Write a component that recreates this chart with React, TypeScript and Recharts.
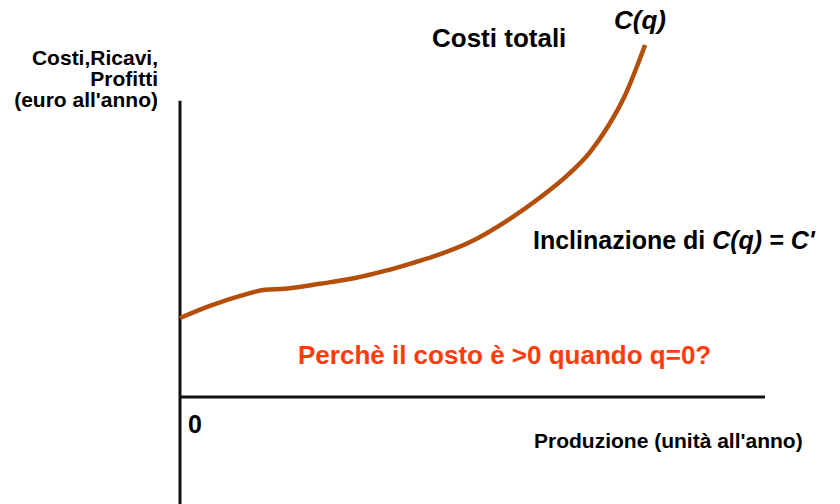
import { LineChart, Line, XAxis, YAxis, ReferenceLine } from 'recharts'

// quantità prodotta (unità all'anno)
const quantita = [0, 5.1, 10.3, 14.5, 17.9, 23.9, 29.9, 35, 39.3, 43.6, 49.6, 56.4, 61.5, 66.3, 70.1, 73.2, 76.1, 79.5]
// costo totale C(q)
const costi = [22.1, 25.5, 28.3, 30.0, 30.3, 31.7, 33.3, 35.3, 37.3, 39.5, 43.4, 49.9, 55.8, 62.2, 68.6, 75.9, 84.6, 98.6]

const data = quantita.map((q, i) => ({ q, costo: costi[i] }))

const FONT = '"Liberation Sans", Arial, sans-serif'

export default function App() {
  return (
    <div style={{ position: 'absolute', top: 0, left: 0, width: 840, height: 504, background: '#fff' }}>
      <LineChart width={840} height={504} data={data} margin={{ top: 40, right: 75, bottom: 0, left: 180 }}>
        <XAxis type="number" dataKey="q" domain={[0, 100]} hide />
        <YAxis type="number" domain={[-30, 100]} hide />
        <ReferenceLine segment={[{ x: 0, y: -30 }, { x: 0, y: 83 }]} stroke="#111" strokeWidth={3} />
        <ReferenceLine segment={[{ x: 0, y: 0 }, { x: 100, y: 0 }]} stroke="#111" strokeWidth={3} />
        <Line type="monotone" dataKey="costo" stroke="#B34E0B" strokeWidth={4.5} dot={false} isAnimationActive={false} />
      </LineChart>
      <svg width={840} height={504} style={{ position: 'absolute', top: 0, left: 0, pointerEvents: 'none' }} fontFamily={FONT} fontWeight="bold">
        <text x={158} y={65} textAnchor="end" fontSize={21}>Costi,Ricavi,</text>
        <text x={158} y={86} textAnchor="end" fontSize={21}>Profitti</text>
        <text x={158} y={107} textAnchor="end" fontSize={21}>(euro all'anno)</text>
        <text x={432} y={47} fontSize={26}>Costi totali</text>
        <text x={614} y={29} fontSize={26} fontStyle="italic">C(q)</text>
        <text x={533} y={249} fontSize={25}>
          Inclinazione di <tspan fontStyle="italic">C(q) = C'</tspan>
        </text>
        <text x={298} y={364} fontSize={26} fill="#FF3B0A">Perchè il costo è &gt;0 quando q=0?</text>
        <text x={188} y={433} fontSize={25}>0</text>
        <text x={534} y={448} fontSize={21}>Produzione (unità all'anno)</text>
      </svg>
    </div>
  )
}
